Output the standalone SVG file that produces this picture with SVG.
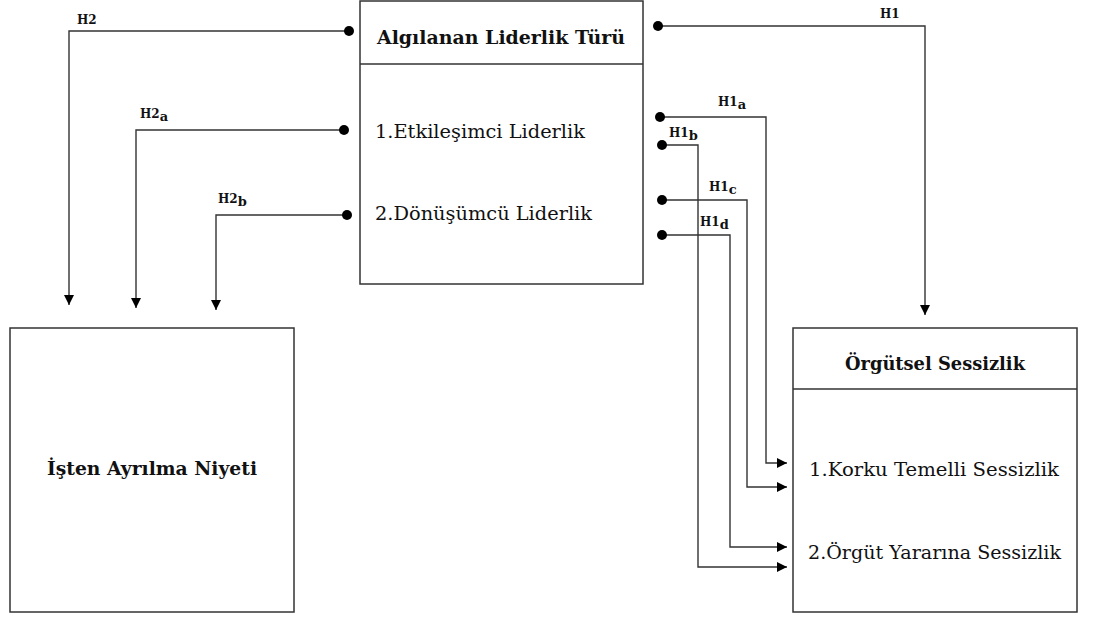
<svg xmlns="http://www.w3.org/2000/svg" width="1094" height="617" viewBox="0 0 1094 617">
<style>
.box{fill:#fff;stroke:#333;stroke-width:1.5}
.ln{fill:none;stroke:#333;stroke-width:1.4}
text{font-family:'DejaVu Serif','Liberation Serif',serif;fill:#111}
.b{font-weight:bold;font-size:18px}
.r{font-size:18px}
.lb{font-weight:bold;font-size:12px}
.sub{font-size:13px}
.dot{fill:#000}
</style>
<defs>
<marker id="ah" viewBox="0 0 10 10" refX="10" refY="5" markerWidth="10" markerHeight="10" markerUnits="userSpaceOnUse" orient="auto">
<path d="M0,0 L10,5 L0,10 Z" fill="#000"/>
</marker>
</defs>
<g id="node-lider">
<rect class="box" x="360" y="1" width="283" height="283"/>
<line class="ln" x1="360" y1="64" x2="643" y2="64"/>
<text class="b" x="377" y="44" textLength="248" lengthAdjust="spacingAndGlyphs">Algılanan Liderlik Türü</text>
<text class="r" x="375" y="138" textLength="210" lengthAdjust="spacingAndGlyphs">1.Etkileşimci Liderlik</text>
<text class="r" x="375" y="220" textLength="217" lengthAdjust="spacingAndGlyphs">2.Dönüşümcü Liderlik</text>
</g>
<g id="node-isten">
<rect class="box" x="10" y="328" width="284" height="284"/>
<text class="b" x="47" y="475" textLength="210" lengthAdjust="spacingAndGlyphs">İşten Ayrılma Niyeti</text>
</g>
<g id="node-sessizlik">
<rect class="box" x="793" y="328" width="284" height="284"/>
<line class="ln" x1="793" y1="389" x2="1077" y2="389"/>
<text class="b" x="845" y="370" textLength="180" lengthAdjust="spacingAndGlyphs">Örgütsel Sessizlik</text>
<text class="r" x="809" y="476" textLength="250" lengthAdjust="spacingAndGlyphs">1.Korku Temelli Sessizlik</text>
<text class="r" x="808" y="559" textLength="253" lengthAdjust="spacingAndGlyphs">2.Örgüt Yararına Sessizlik</text>
</g>
<g id="connectors">
<path class="ln" d="M349,31 H69 V305" marker-end="url(#ah)"/>
<circle class="dot" cx="349" cy="31" r="5"/>
<path class="ln" d="M344,130 H136 V308" marker-end="url(#ah)"/>
<circle class="dot" cx="344" cy="130" r="5"/>
<path class="ln" d="M347,215 H216 V310" marker-end="url(#ah)"/>
<circle class="dot" cx="347" cy="215" r="5"/>
<path class="ln" d="M658,26 H925 V315" marker-end="url(#ah)"/>
<circle class="dot" cx="658" cy="26" r="5"/>
<path class="ln" d="M660,117 H766 V463 H787" marker-end="url(#ah)"/>
<circle class="dot" cx="660" cy="117" r="5"/>
<path class="ln" d="M662,145 H698 V567 H787" marker-end="url(#ah)"/>
<circle class="dot" cx="662" cy="145" r="5"/>
<path class="ln" d="M662,200 H747 V487 H787" marker-end="url(#ah)"/>
<circle class="dot" cx="662" cy="200" r="5"/>
<path class="ln" d="M662,235 H730 V547 H787" marker-end="url(#ah)"/>
<circle class="dot" cx="662" cy="235" r="5"/>
<text class="lb" x="77" y="24">H2</text>
<text class="lb" x="140" y="118">H2<tspan class="sub" dy="3">a</tspan></text>
<text class="lb" x="218" y="203">H2<tspan class="sub" dy="3">b</tspan></text>
<text class="lb" x="880" y="18">H1</text>
<text class="lb" x="718" y="106">H1<tspan class="sub" dy="3">a</tspan></text>
<text class="lb" x="669" y="137">H1<tspan class="sub" dy="3">b</tspan></text>
<text class="lb" x="709" y="191">H1<tspan class="sub" dy="3">c</tspan></text>
<text class="lb" x="700" y="226">H1<tspan class="sub" dy="3">d</tspan></text>
</g>
</svg>
